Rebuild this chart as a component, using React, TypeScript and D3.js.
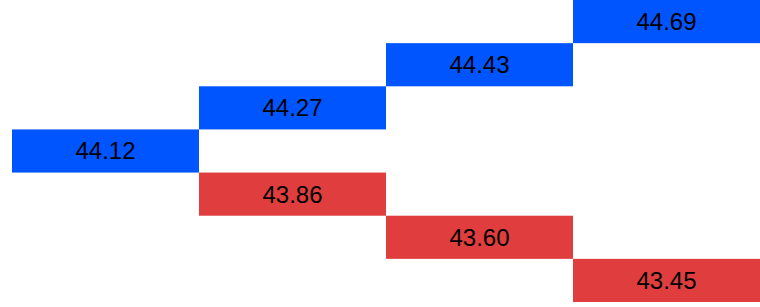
import React, { useEffect, useRef } from "react";
import * as d3 from "d3";

// steps of the ladder, left to right
const steps = ["0", "1", "2", "3"];
// rising prices (blue), one per step
const upPrices = [44.12, 44.27, 44.43, 44.69];
const upSteps = ["0", "1", "2", "3"];
// falling prices (red), one per step
const downPrices = [43.86, 43.6, 43.45];
const downSteps = ["1", "2", "3"];

const App = () => {
  const svgRef = useRef<SVGSVGElement>(null);

  useEffect(() => {
    const width = 760;
    const height = 307;
    const margin = { top: 0, right: 0, bottom: 5, left: 12 };

    const svg = d3.select(svgRef.current);
    svg.selectAll("*").remove();
    svg.attr("width", width).attr("height", height);

    const cells = [
      ...upPrices.map((v, i) => ({ value: v, step: upSteps[i], up: true })),
      ...downPrices.map((v, i) => ({ value: v, step: downSteps[i], up: false })),
    ];

    const x = d3
      .scaleBand()
      .domain(steps)
      .range([margin.left, width - margin.right]);

    const y = d3
      .scaleBand()
      .domain(
        cells
          .map((d) => d.value)
          .sort((a, b) => b - a)
          .map((v) => v.toFixed(2))
      )
      .range([margin.top, height - margin.bottom]);

    const g = svg
      .selectAll(".cell")
      .data(cells)
      .enter()
      .append("g")
      .attr("class", "cell");

    g.append("rect")
      .attr("x", (d) => x(d.step)!)
      .attr("y", (d) => y(d.value.toFixed(2))!)
      .attr("width", x.bandwidth())
      .attr("height", y.bandwidth())
      .attr("fill", (d) => (d.up ? "#0055ff" : "#e03e3e"));

    g.append("text")
      .attr("x", (d) => x(d.step)! + x.bandwidth() / 2)
      .attr("y", (d) => y(d.value.toFixed(2))! + y.bandwidth() / 2)
      .attr("dy", "0.35em")
      .attr("text-anchor", "middle")
      .attr("font-family", "Liberation Sans, Arial, sans-serif")
      .attr("font-size", 24)
      .attr("fill", "#000")
      .text((d) => d.value.toFixed(2));
  }, []);

  return (
    <svg
      ref={svgRef}
      style={{ position: "absolute", left: 0, top: 0, display: "block" }}
    ></svg>
  );
};

export default App;
